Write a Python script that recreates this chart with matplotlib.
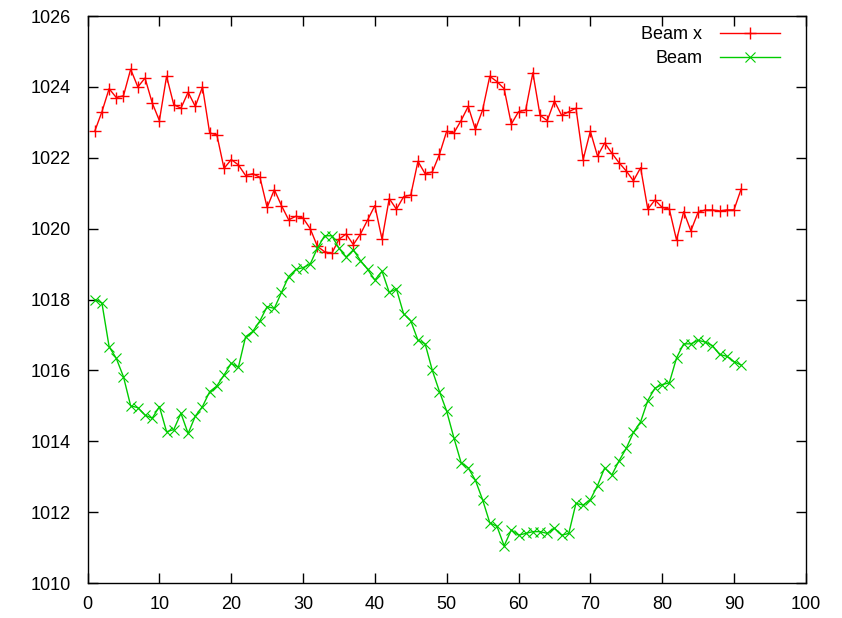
import matplotlib
matplotlib.use("Agg")
import matplotlib.pyplot as plt

# sample index
x = list(range(1, 92))

beam_x = [1022.75, 1023.3, 1023.95, 1023.7, 1023.75, 1024.5, 1024.0, 1024.25, 1023.55, 1023.05,
          1024.3, 1023.5, 1023.4, 1023.85, 1023.45, 1024.0, 1022.7, 1022.65, 1021.7, 1021.95,
          1021.8, 1021.5, 1021.55, 1021.45, 1020.6, 1021.1, 1020.65, 1020.25, 1020.35, 1020.3,
          1020.0, 1019.5, 1019.35, 1019.3, 1019.7, 1019.85, 1019.55, 1019.85, 1020.25, 1020.65,
          1019.7, 1020.85, 1020.55, 1020.9, 1020.95, 1021.9, 1021.55, 1021.6, 1022.1, 1022.75,
          1022.7, 1023.05, 1023.45, 1022.8, 1023.35, 1024.3, 1024.15, 1023.95, 1022.95, 1023.3,
          1023.35, 1024.4, 1023.2, 1023.05, 1023.6, 1023.2, 1023.3, 1023.4, 1021.95, 1022.75,
          1022.05, 1022.42, 1022.13, 1021.86, 1021.63, 1021.35, 1021.72, 1020.55, 1020.81, 1020.6,
          1020.55, 1019.68, 1020.48, 1019.94, 1020.46, 1020.53, 1020.53, 1020.5, 1020.53, 1020.53,
          1021.12]

beam = [1018.0, 1017.9, 1016.67, 1016.34, 1015.82, 1015.0, 1014.95, 1014.74, 1014.65, 1014.98,
        1014.27, 1014.33, 1014.79, 1014.22, 1014.71, 1014.98, 1015.4, 1015.56, 1015.87, 1016.2,
        1016.09, 1016.95, 1017.1, 1017.4, 1017.8, 1017.75, 1018.2, 1018.65, 1018.85, 1018.9,
        1019.0, 1019.45, 1019.8, 1019.8, 1019.45, 1019.2, 1019.4, 1019.1, 1018.85, 1018.55,
        1018.8, 1018.2, 1018.3, 1017.6, 1017.4, 1016.85, 1016.75, 1016.0, 1015.4, 1014.85,
        1014.1, 1013.4, 1013.25, 1012.9, 1012.35, 1011.7, 1011.6, 1011.05, 1011.5, 1011.35,
        1011.4, 1011.45, 1011.45, 1011.4, 1011.55, 1011.35, 1011.4, 1012.25, 1012.2, 1012.35,
        1012.75, 1013.25, 1013.05, 1013.45, 1013.8, 1014.25, 1014.55, 1015.15, 1015.5, 1015.6,
        1015.65, 1016.35, 1016.75, 1016.75, 1016.85, 1016.8, 1016.7, 1016.45, 1016.4, 1016.25,
        1016.15]

x_ticks = list(range(0, 101, 10))
y_ticks = list(range(1010, 1027, 2))

plt.rcParams['font.family'] = ['Liberation Sans', 'DejaVu Sans']

fig = plt.figure(figsize=(8.42, 6.18), dpi=100)
ax = fig.add_axes([0.104, 0.0566, 0.853, 0.9174])

ax.plot(x, beam_x, color='#ff0000', lw=1, marker='+', ms=9, mew=1, label='Beam x')
ax.plot(x, beam, color='#00cc00', lw=1, marker='x', ms=7, mew=0.8, label='Beam')

ax.set_xlim(0, 100)
ax.set_ylim(1010, 1026)
ax.set_xticks(x_ticks)
ax.set_yticks(y_ticks)
ax.tick_params(direction='in', top=True, right=True, length=7, width=1,
               labelsize=13, colors='black')
ax.tick_params(axis='y', pad=12)
ax.tick_params(axis='x', pad=9)
for s in ax.spines.values():
    s.set_linewidth(1)

leg = ax.legend(loc='upper right', bbox_to_anchor=(0.969, 0.989), frameon=False,
                fontsize=13, markerfirst=False, handlelength=3.3, handletextpad=1.0,
                borderaxespad=0, borderpad=0.2, labelspacing=0.42)
for t in leg.get_texts():
    t.set_ha('right')

fig.savefig('out.png', dpi=100)
